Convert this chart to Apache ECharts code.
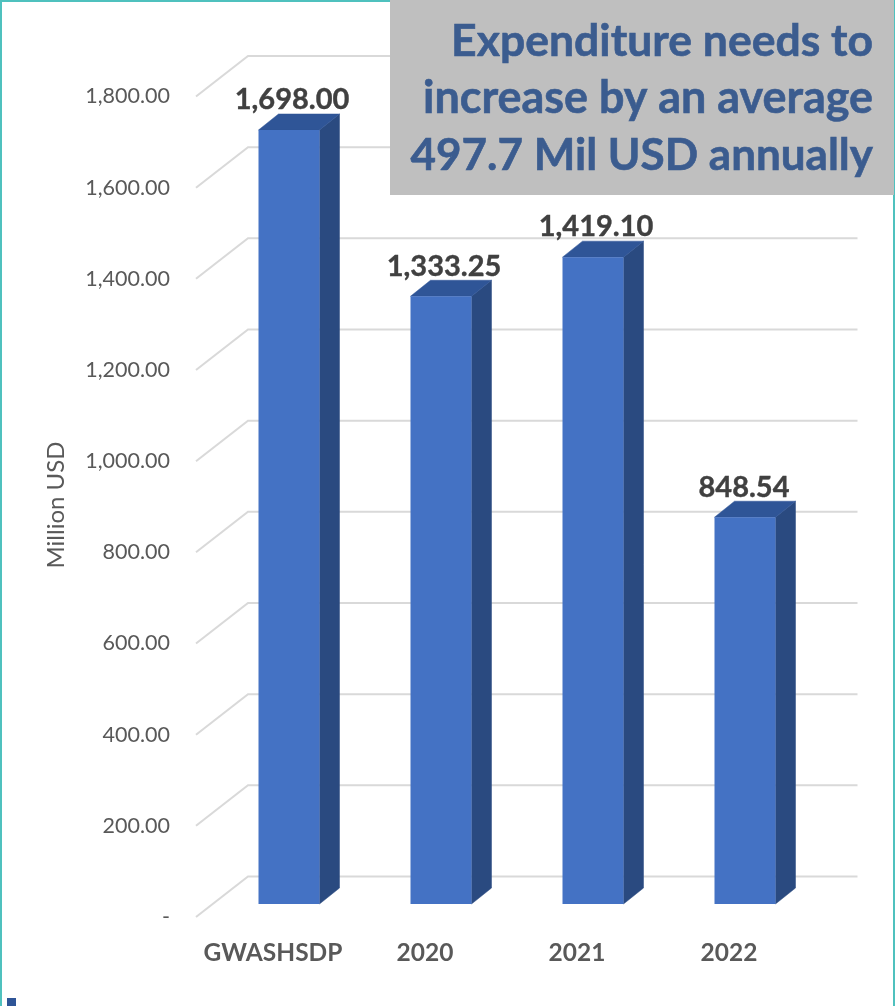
<!DOCTYPE html>
<html><head><meta charset="utf-8">
<style>html,body{margin:0;padding:0;background:#fff}#c{width:895px;height:1006px}</style>
<script src="https://cdn.jsdelivr.net/npm/echarts@6/dist/echarts.min.js"></script>
</head><body><div id="c"></div>
<script>
const categories = ['GWASHSDP', '2020', '2021', '2022'];
const expenditure = [1698.00, 1333.25, 1419.10, 848.54];
const gridValues = [0, 200, 400, 600, 800, 1000, 1200, 1400, 1600, 1800];
const titleLines = ['Expenditure needs to', 'increase by an average', '497.7 Mil USD annually'];
const yAxisName = 'Million USD';

const FONT = 'Lato';
const fmt = v => v.toLocaleString('en-US', {minimumFractionDigits: 2, maximumFractionDigits: 2});
const titleSizes = [44.5, 44.9, 44];
const titleStyle = i => ({
  type: 'text', z: 52, x: 873, y: 42 + i * 57, style: {
    text: titleLines[i], fill: '#3B5C8F', align: 'right', verticalAlign: 'middle',
    font: 'bold ' + titleSizes[i] + 'px ' + FONT, stroke: '#3B5C8F', lineWidth: 0.6
  }
});

const chart = echarts.init(document.getElementById('c'), null, {renderer: 'canvas'});
chart.setOption({
  animation: false,
  backgroundColor: '#fff',
  grid: {left: 197, top: 83.5, width: 608, height: 820.5},
  xAxis: {
    type: 'category', data: categories,
    axisLine: {show: false}, axisTick: {show: false},
    axisLabel: {color: '#595959', fontFamily: FONT, fontWeight: 'bold', fontSize: 24.5, margin: 37, interval: 0}
  },
  yAxis: {
    type: 'value', min: 0, max: 1800, interval: 200,
    axisLine: {show: false}, axisTick: {show: false}, splitLine: {show: false},
    axisLabel: {show: false}
  },
  graphic: [
    {type: 'rect', z: 50, shape: {x: 0, y: 0, width: 895, height: 2}, style: {fill: '#4FC1BE'}},
    {type: 'rect', z: 50, shape: {x: 0, y: 0, width: 2, height: 1006}, style: {fill: '#4FC1BE'}},
    {type: 'rect', z: 50, shape: {x: 893, y: 0, width: 2, height: 1006}, style: {fill: '#4FC1BE'}},
    {type: 'rect', z: 51, shape: {x: 390, y: 0, width: 504, height: 195}, style: {fill: '#BFBFBF'}},
    {type: 'rect', z: 50, shape: {x: 7, y: 998, width: 9, height: 8}, style: {fill: '#2F5597'}},
    titleStyle(0), titleStyle(1), titleStyle(2),
    {type: 'text', z: 10, x: 56, y: 505, rotation: Math.PI / 2, style: {
      text: yAxisName, fill: '#595959', align: 'center', verticalAlign: 'middle',
      font: '24px ' + FONT
    }}
  ],
  series: [
    {
      type: 'custom', z: 1, silent: true, clip: false,
      data: gridValues.map(v => [0, v]),
      encode: {x: 0, y: 1},
      renderItem(params, api) {
        const v = api.value(1);
        const y = api.coord([0, v])[1];
        const cs = params.coordSys;
        const x0 = cs.x - 1, x1 = cs.x + 51, x2 = cs.x + 660.5;
        return {
          type: 'group',
          children: [
            {type: 'polyline',
             shape: {points: [[x0, y + 13], [x1, y - 27.5], [x2, y - 27.5]]},
             style: {stroke: '#D9D9D9', lineWidth: 2, fill: null}},
            {type: 'text', x: cs.x - 27, y: y + 13, style: {
              text: v === 0 ? '-' : fmt(v), fill: '#595959', align: 'right', verticalAlign: 'middle',
              font: '21.5px ' + FONT
            }}
          ]
        };
      }
    },
    {
      type: 'custom', z: 3, silent: true, clip: false,
      data: expenditure.map((v, i) => [i, v]),
      encode: {x: 0, y: 1},
      renderItem(params, api) {
        const val = api.value(1);
        const top = api.coord([api.value(0), val]);
        const base = api.coord([api.value(0), 0]);
        const w = 61, dx = 20, dy = 16;
        const l = top[0] - 14.5, r = l + w, t = top[1], b = base[1];
        return {
          type: 'group',
          children: [
            {type: 'polygon', shape: {points: [[r, t], [r + dx, t - dy], [r + dx, b - dy], [r, b]]}, style: {fill: '#2A4A80', stroke: '#2A4A80', lineWidth: 0.5}},
            {type: 'polygon', shape: {points: [[l, t], [l + dx, t - dy], [r + dx, t - dy], [r, t]]}, style: {fill: '#2F5597', stroke: '#2F5597', lineWidth: 0.5}},
            {type: 'rect', shape: {x: l, y: t, width: w, height: b - t}, style: {fill: '#4472C4'}},
            {type: 'text', x: (l + r) / 2 + (val < 1000 ? -1 : 3), y: t - 30, style: {
              text: fmt(val), fill: '#404040', align: 'center', verticalAlign: 'middle',
              font: 'bold 29px ' + FONT, stroke: '#404040', lineWidth: 0.4
            }}
          ]
        };
      }
    }
  ]
});
</script></body></html>
